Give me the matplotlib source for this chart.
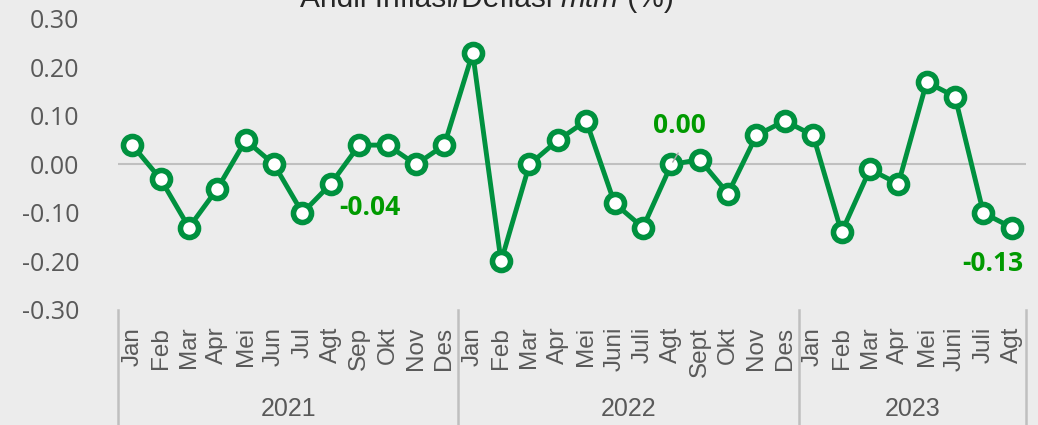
import matplotlib.pyplot as plt
import matplotlib.transforms as mtransforms

# monthly contribution to inflation (mtm, %)
months_2021 = ['Jan', 'Feb', 'Mar', 'Apr', 'Mei', 'Jun', 'Jul', 'Agt', 'Sep', 'Okt', 'Nov', 'Des']
months_2022 = ['Jan', 'Feb', 'Mar', 'Apr', 'Mei', 'Juni', 'Juli', 'Agt', 'Sept', 'Okt', 'Nov', 'Des']
months_2023 = ['Jan', 'Feb', 'Mar', 'Apr', 'Mei', 'Juni', 'Juli', 'Agt']
vals_2021 = [0.04, -0.03, -0.13, -0.05, 0.05, 0.00, -0.10, -0.04, 0.04, 0.04, 0.00, 0.04]
vals_2022 = [0.23, -0.20, 0.00, 0.05, 0.09, -0.08, -0.13, 0.00, 0.01, -0.06, 0.06, 0.09]
vals_2023 = [0.06, -0.14, -0.01, -0.04, 0.17, 0.14, -0.10, -0.13]
years = ['2021', '2022', '2023']

months = months_2021 + months_2022 + months_2023
values = vals_2021 + vals_2022 + vals_2023
x = list(range(len(values)))

bg = '#ececec'
green = '#00913f'
label_green = '#009a00'
grey = '#595959'
narrow = ['Liberation Sans Narrow', 'Liberation Sans', 'DejaVu Sans']
round_font = ['Open Sans', 'DejaVu Sans']

fig = plt.figure(figsize=(10.38, 4.25), dpi=100, facecolor=bg)
ax = fig.add_axes([0.1137, 0.2706, 0.8747, 0.6847], facecolor=bg)

ax.axhline(0, color='#c0c0c0', lw=1.5, zorder=1)
ax.plot(x, values, color=green, lw=3.5, marker='o', ms=13,
        mfc='white', mec=green, mew=4, zorder=3)

ax.set_xlim(-0.5, len(values) - 0.5)
ax.set_ylim(-0.30, 0.30)
ax.set_yticks([-0.3, -0.2, -0.1, 0.0, 0.1, 0.2, 0.3])
ax.set_yticklabels([f'{v:.2f}' for v in ax.get_yticks()], fontsize=18,
                   color=grey, family=round_font)
ax.tick_params(axis='y', length=0, pad=28)
ax.set_xticks(x)
ax.set_xticklabels(months, rotation=90, fontsize=17.5, color=grey, family=narrow)
ax.tick_params(axis='x', length=0, pad=12)
for s in ax.spines.values():
    s.set_visible(False)

# year group separators and labels
trans = mtransforms.blended_transform_factory(ax.transData, ax.transAxes)
bounds = [-0.5, len(months_2021) - 0.5, len(months_2021) + len(months_2022) - 0.5, len(values) - 0.5]
for b in bounds:
    ax.plot([b, b], [0, -0.4], transform=trans, color='#bfbfbf', lw=1.8, clip_on=False)
for i, yr in enumerate(years):
    ax.text((bounds[i] + bounds[i + 1]) / 2, -0.34, yr, transform=trans,
            ha='center', va='center', fontsize=18, color=grey, family=narrow)

# data labels
lab = dict(textcoords='offset points', ha='center', va='center',
           fontsize=19, fontweight='bold', color=label_green, family=round_font)
ax.annotate(f'{values[7]:.2f}', (7, values[7]), xytext=(28, -17), **lab)
ax.annotate(f'{values[31]:.2f}', (31, values[31]), xytext=(-14, -26), **lab)
ax.annotate(f'{values[19]:.2f}', (19, values[19]), xytext=(6, 28), **lab)
ax.annotate('', (19, values[19]), xytext=(6, 10), textcoords='offset points',
            arrowprops=dict(arrowstyle='-', color='#a6a6a6', lw=1))

# title (clipped at the top like the source), built from pieces
parts = [('Andil Inflasi/Deflasi ', 'normal'), ('mtm', 'italic'), (' (%)', 'normal')]
renderer = fig.canvas.get_renderer()
xpos = 300
ty = 1 - 7 / 425
for txt, st in parts:
    t = fig.text(xpos / 1038, ty, txt, ha='left', va='baseline', style=st,
                 fontsize=21.5, color='#262626', family='Liberation Sans')
    xpos += t.get_window_extent(renderer).width

fig.savefig('out.png', dpi=100, facecolor=bg)
